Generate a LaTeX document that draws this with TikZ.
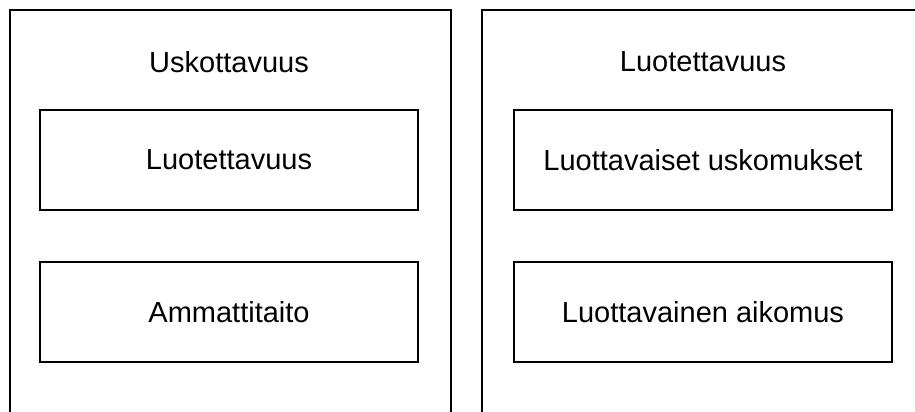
\documentclass[tikz,border=0pt]{standalone}
\usepackage{fontspec}
\setmainfont{Liberation Sans}
\begin{document}
\begin{tikzpicture}[x=1pt,y=-1pt,
  frame/.style={line width=2pt},
  innerbox/.style={draw,line width=2pt,minimum height=100pt,inner sep=0pt,anchor=center},
  lbl/.style={font=\fontsize{29}{34}\selectfont}]
\clip (0,0) rectangle (915,412);
\useasboundingbox (0,0) rectangle (915,412);
% outer frames (open at bottom / right)
\coordinate (lbl1) at (10,425);
\coordinate (ltl) at (10,10);
\coordinate (ltr) at (451,10);
\coordinate (lbr) at (451,425);
\draw[frame] (lbl1) -- (ltl) -- (ltr) -- (lbr);
\coordinate (rbl) at (482,425);
\coordinate (rtl) at (482,10);
\coordinate (rtr) at (930,10);
\draw[frame] (rbl) -- (rtl) -- (rtr);
% titles
\node[lbl] (t1) at (229,62) {Uskottavuus};
\node[lbl] (t2) at (703,62) {Luotettavuus};
% inner boxes
\node[innerbox,lbl,minimum width=378pt] (a1) at (229,160) {Luotettavuus};
\node[innerbox,lbl,minimum width=378pt] (a2) at (229,312) {Ammattitaito};
\node[innerbox,lbl,minimum width=378pt] (b1) at (703,160) {Luottavaiset uskomukset};
\node[innerbox,lbl,minimum width=378pt] (b2) at (703,312) {Luottavainen aikomus};
\end{tikzpicture}
\end{document}
